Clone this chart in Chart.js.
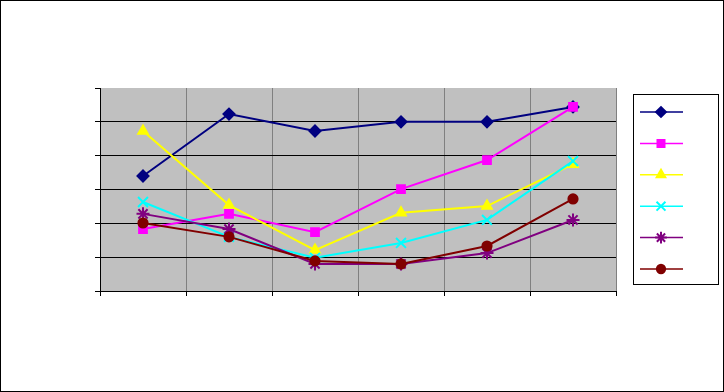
<!DOCTYPE html>
<html>
<head>
<meta charset="utf-8">
<script src="https://cdn.jsdelivr.net/npm/chart.js"></script>
<style>
    html, body { margin: 0; padding: 0; background: #ffffff; }
    #wrap { width: 724px; height: 392px; }
</style>
</head>
<body>
<div id="wrap"><canvas id="chart" width="724" height="392"></canvas></div>
<script>
// Chart values (in gridline units; the axis shows no labels)
var categories = ['1', '2', '3', '4', '5', '6'];
var yTicks     = [0, 1, 2, 3, 4, 5, 6];

var seriesNavy    = [3.40, 5.23, 4.73, 5.00, 5.00, 5.44];
var seriesMagenta = [1.83, 2.28, 1.74, 3.01, 3.87, 5.44];
var seriesYellow  = [4.73, 2.54, 1.21, 2.31, 2.51, 3.75];
var seriesCyan    = [2.63, 1.60, 0.98, 1.42, 2.10, 3.84];
var seriesPurple  = [2.28, 1.83, 0.80, 0.80, 1.12, 2.10];
var seriesMaroon  = [2.01, 1.60, 0.89, 0.80, 1.33, 2.72];

var seriesList   = [seriesNavy, seriesMagenta, seriesYellow, seriesCyan, seriesPurple, seriesMaroon];
var seriesColors = ['#000080', '#ff00ff', '#ffff00', '#00ffff', '#800080', '#800000'];
var seriesStyles = ['rectRot', 'rect', 'triangle', 'crossRot', 'star', 'circle'];
var seriesRadius = [5.5, 5.5, 5.5, 7, 6.5, 4.6];

// Gray plot background + outer frame
var framePlugin = {
    id: 'frame',
    beforeDraw: function(chart) {
        var ctx = chart.ctx;
        var a = chart.chartArea;
        ctx.save();
        ctx.fillStyle = '#c0c0c0';
        ctx.fillRect(a.left, a.top, a.right - a.left, a.bottom - a.top);
        ctx.restore();
    },
    afterDraw: function(chart) {
        var ctx = chart.ctx;
        ctx.save();
        ctx.strokeStyle = '#000000';
        ctx.lineWidth = 1;
        ctx.strokeRect(0.5, 0.5, chart.width - 1, chart.height - 1);
        ctx.restore();
    }
};

// Boxed legend with line + marker samples and no text
var legendPlugin = {
    id: 'boxLegend',
    afterDraw: function(chart) {
        var ctx = chart.ctx;
        var box = { left: 633, top: 94, right: 718, bottom: 284 };
        ctx.save();
        ctx.fillStyle = '#ffffff';
        ctx.fillRect(box.left, box.top, box.right - box.left, box.bottom - box.top);
        ctx.strokeStyle = '#000000';
        ctx.lineWidth = 1;
        ctx.strokeRect(box.left + 0.5, box.top + 0.5, box.right - box.left, box.bottom - box.top);

        chart.data.datasets.forEach(function(ds, i) {
            var y = 112 + i * 31.4;
            ctx.strokeStyle = ds.borderColor;
            ctx.lineWidth = 1.5;
            ctx.beginPath();
            ctx.moveTo(640, y);
            ctx.lineTo(683, y);
            ctx.stroke();
            ctx.fillStyle = ds.pointBackgroundColor;
            ctx.strokeStyle = ds.pointBorderColor;
            ctx.lineWidth = 2;
            Chart.helpers.drawPoint(ctx, {
                pointStyle: ds.pointStyle,
                radius: ds.pointRadius * 0.9,
                rotation: 0,
                borderWidth: 2
            }, 661, y);
        });
        ctx.restore();
    }
};

var datasets = seriesList.map(function(values, i) {
    return {
        data: values,
        borderColor: seriesColors[i],
        borderWidth: 2,
        pointStyle: seriesStyles[i],
        pointRadius: seriesRadius[i],
        pointHoverRadius: seriesRadius[i],
        pointBackgroundColor: seriesColors[i],
        pointBorderColor: seriesColors[i],
        pointBorderWidth: 2,
        tension: 0,
        fill: false,
        order: seriesList.length - i
    };
});

new Chart(document.getElementById('chart'), {
    type: 'line',
    data: { labels: categories, datasets: datasets },
    options: {
        responsive: false,
        animation: false,
        layout: { padding: { left: 95, top: 88, right: 108, bottom: 96 } },
        plugins: {
            legend: { display: false },
            tooltip: { enabled: false }
        },
        scales: {
            x: {
                offset: true,
                grid: {
                    offset: true,
                    color: '#808080',
                    tickColor: '#000000',
                    tickLength: 5,
                    lineWidth: 1
                },
                border: { color: '#000000', width: 1 },
                ticks: { display: false },
                afterFit: function(scale) { scale.height = 5; }
            },
            y: {
                min: yTicks[0],
                max: yTicks[yTicks.length - 1],
                afterBuildTicks: function(scale) {
                    scale.ticks = yTicks.map(function(v) { return { value: v }; });
                },
                grid: {
                    color: function(c) {
                        return c.tick && c.tick.value === yTicks[yTicks.length - 1] ? 'rgba(0,0,0,0)' : '#000000';
                    },
                    tickColor: '#000000',
                    tickLength: 5,
                    lineWidth: 1
                },
                border: { color: '#000000', width: 1 },
                ticks: { display: false },
                afterFit: function(scale) { scale.width = 5; }
            }
        }
    },
    plugins: [framePlugin, legendPlugin]
});
</script>
</body>
</html>
